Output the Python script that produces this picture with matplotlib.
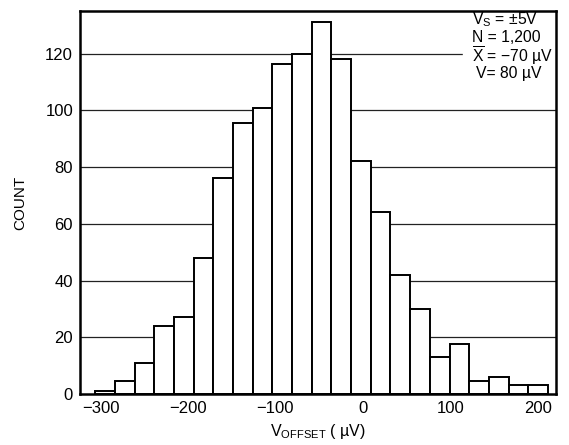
import matplotlib
matplotlib.use("Agg")
import matplotlib.pyplot as plt
import numpy as np

plt.rcParams['font.family'] = ['Liberation Sans', 'DejaVu Sans']

# histogram of offset voltage (uV), bin width 22.5
bin_start = -306
bin_width = 22.5
counts = [1, 4.5, 11, 24, 27, 48, 76, 95.5, 101, 116.5, 120, 131, 118,
          82, 64, 42, 30, 13, 17.5, 4.5, 6, 3, 3]
x_ticks = [-300, -200, -100, 0, 100, 200]
y_ticks = [0, 20, 40, 60, 80, 100, 120]
notes = ["V$_\\mathregular{S}$ = ±5V", "N = 1,200",
         "$\\mathregular{\\overline{X}}$ = −70 µV", "V= 80 µV"]

edges = bin_start + bin_width * np.arange(len(counts))

fig = plt.figure(figsize=(5.69, 4.45), dpi=100)
ax = fig.add_axes([0.1406, 0.1146, 0.8364, 0.8604])

for y in y_ticks[1:]:
    ax.axhline(y, color='#222222', lw=0.9, zorder=1)

ax.bar(edges, counts, width=bin_width, align='edge', color='white',
       edgecolor='black', linewidth=1.4, zorder=2)

ax.set_xlim(-323.4, 220.6)
ax.set_ylim(0, 135)
ax.set_xticks(x_ticks)
ax.set_xticklabels([str(t).replace('-', '−') for t in x_ticks])
ax.set_yticks(y_ticks)
ax.tick_params(length=0, labelsize=12, pad=5)
for s in ax.spines.values():
    s.set_linewidth(1.8)
    s.set_zorder(3)

ax.set_ylabel("COUNT", fontsize=11, labelpad=13)
ax.set_xlabel("V$_\\mathregular{OFFSET}$ ( µV)", fontsize=11.5, labelpad=4)

# white patch behind the notes hides the grid line there
ax.axvspan(114, 220, ymin=0.80, ymax=0.995, color='white', zorder=1.5)
note_y = [0.979, 0.932, 0.885, 0.838]
for i, t in enumerate(notes):
    if i < 3:
        ax.text(0.8235, note_y[i], t, transform=ax.transAxes,
                ha='left', va='center', fontsize=11.3, zorder=4)
    else:
        ax.text(0.90, note_y[i], t, transform=ax.transAxes,
                ha='center', va='center', fontsize=11.3, zorder=4)

fig.savefig("out.png", dpi=100)
